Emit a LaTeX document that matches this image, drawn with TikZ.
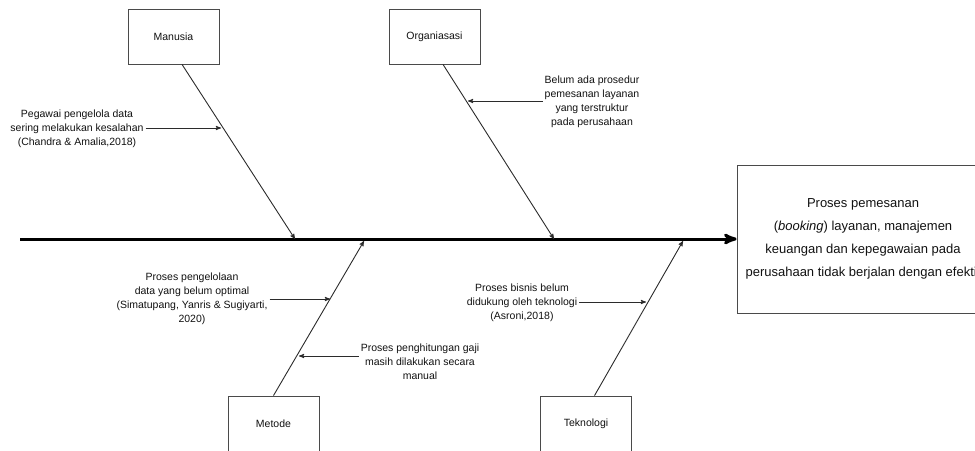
\documentclass[tikz,border=0pt]{standalone}
\usepackage{fontspec}
\setmainfont{Liberation Sans}
\usepackage{tikz}
\usetikzlibrary{arrows,calc}
\tikzset{>=stealth'}
\definecolor{garis}{HTML}{2B2B2B}
\definecolor{bingkai}{HTML}{4A4A4A}
\definecolor{teks}{HTML}{111111}
\tikzset{
  kotak/.style={draw=bingkai,line width=0.9pt,minimum width=91pt,minimum height=55pt,
    font=\fontsize{10.5}{14}\selectfont,text=teks},
  sebab/.style={align=center,inner sep=2pt,font=\fontsize{10.5}{14}\selectfont,text=teks},
  tulang/.style={draw=garis,line width=0.9pt,->},
  panah/.style={draw=garis,line width=0.9pt,->},
}

\begin{document}
\begin{tikzpicture}[x=1pt,y=-1pt]
\useasboundingbox (0,0) rectangle (975,450);
\clip (0,0) rectangle (975,450);
% kategori
\node[kotak] (manusia) at (173.5,36.5) {Manusia};
\node[kotak] (organisasi) at (434.5,36.5) {Organiasasi};
\node[kotak] (metode) at (273.5,423.5) {Metode};
\node[kotak] (teknologi) at (586,423.5) {Teknologi};
\node[draw=bingkai,line width=0.9pt,minimum width=252pt,minimum height=148pt,align=center,
  font=\fontsize{13}{23}\selectfont,text=teks] (akibat) at (863,239)
  {Proses pemesanan\\(\textit{booking}) layanan, manajemen\\keuangan dan kepegawaian pada\\perusahaan tidak berjalan dengan efektif};
% tulang utama
\coordinate (ekor) at (20,239);
\draw[black,line width=3pt,->] (ekor) -- (akibat.west);
\coordinate (t1) at (295,239);
\coordinate (t2) at (554,239);
\coordinate (t3) at (364,241);
\coordinate (t4) at (683,241);
\draw[tulang] (manusia.-73) -- (t1);
\draw[tulang] (organisasi.-73) -- (t2);
\draw[tulang] (metode.north) -- (t3);
\draw[tulang] (teknologi.73) -- (t4);
% sebab
\coordinate (s1) at (221,128);
\coordinate (s2) at (468,101);
\coordinate (s3) at (330,299);
\coordinate (s4) at (299,356);
\coordinate (s5) at (646,302);
\node[sebab] (ketSatu) at (77,129) {Pegawai pengelola data\\sering melakukan kesalahan\\(Chandra \& Amalia,2018)};
\node[sebab] (ketDua) at (592,102) {Belum ada prosedur\\pemesanan layanan\\yang terstruktur\\pada perusahaan};
\node[sebab] (ketTiga) at (192,299) {Proses pengelolaan\\data yang belum optimal\\(Simatupang, Yanris \& Sugiyarti,\\2020)};
\node[sebab] (ketEmpat) at (420,362) {Proses penghitungan gaji\\masih dilakukan secara\\manual};
\node[sebab] (ketLima) at (522,303) {Proses bisnis belum\\didukung oleh teknologi\\(Asroni,2018)};
\draw[panah] (ketSatu.east |- s1) -- (s1);
\draw[panah] (ketDua.west |- s2) -- (s2);
\draw[panah] (ketTiga.east |- s3) -- (s3);
\draw[panah] (ketEmpat.west |- s4) -- (s4);
\draw[panah] (ketLima.east |- s5) -- (s5);
\end{tikzpicture}
\end{document}
